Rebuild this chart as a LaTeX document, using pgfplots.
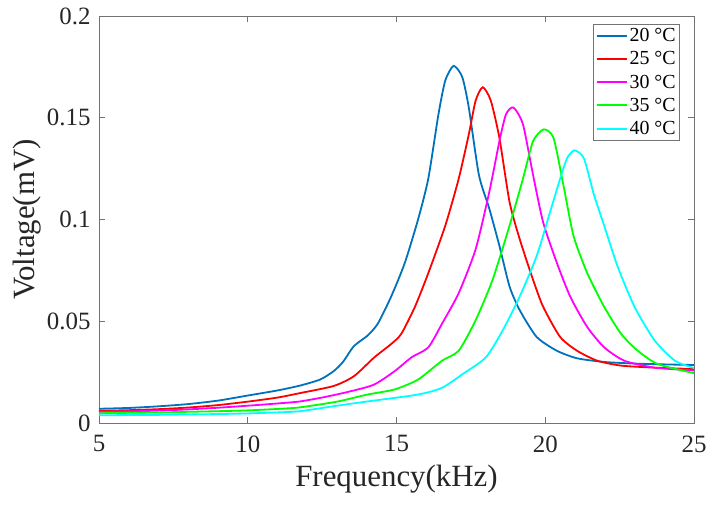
\documentclass[border=0pt]{standalone}
\usepackage{fontspec}
\setmainfont{Liberation Serif}
\usepackage{pgfplots}
\pgfplotsset{compat=1.18}
\definecolor{mblue}{rgb}{0,0.447,0.741}
\definecolor{pmag}{rgb}{1,0,1}
\definecolor{pcyan}{rgb}{0,1,1}
\definecolor{pgreen}{rgb}{0,1,0}
\definecolor{pred}{rgb}{1,0,0}
\definecolor{axgray}{gray}{0.45}
\begin{document}
\begin{tikzpicture}
\begin{axis}[
  scale only axis,
  width=595bp, height=407bp,
  xmin=5, xmax=25, ymin=0, ymax=0.2,
  xtick={5,10,15,20,25},
  ytick={0,0.05,0.1,0.15,0.2},
  yticklabels={0,0.05,0.1,0.15,0.2},
  xticklabels={5,10,15,20,25},
  tick align=inside,
  major tick length=6bp,
  tick style={axgray, line width=0.6bp},
  axis line style={axgray, line width=0.8bp},
  xtick pos=both, ytick pos=both,
  /pgf/number format/assume math mode=true,
  tick label style={font=\fontsize{25}{28}\selectfont, text=black!85},
  xticklabel style={yshift=-9bp},
  yticklabel style={xshift=-5bp},
  xlabel={Frequency(kHz)},
  ylabel={Voltage(mV)},
  label style={font=\fontsize{31}{36}\selectfont, text=black!85},
  xlabel style={at={(axis description cs:0.5,-0.137)}, anchor=center},
  ylabel style={at={(axis description cs:-0.121,0.5)}, anchor=center},
  legend style={at={(rel axis cs:1,1)}, anchor=north east, xshift=-14bp, yshift=-8bp,
    draw=axgray, line width=0.6bp, font=\fontsize{20}{23}\selectfont,
    row sep=4.5bp, inner sep=2bp, cells={anchor=west}},
  legend image code/.code={\draw[#1, line width=2bp] (0bp,0bp) -- (30bp,0bp);},
  every axis plot/.append style={line width=1.8bp, smooth, tension=0.4},
]
\addplot[mblue] coordinates {
(5,0.0070) (6,0.0074) (7,0.0082) (8,0.0093) (9,0.0110) (10,0.0135) (11,0.0160)
(11.76,0.0184) (12.44,0.0214) (12.89,0.0255) (13.2,0.0300) (13.57,0.0378) (14.03,0.0430)
(14.37,0.0488) (14.82,0.0621) (15.28,0.0787) (15.73,0.1003) (16.07,0.1202) (16.41,0.1517)
(16.64,0.1683) (16.92,0.1755) (17.21,0.1700) (17.43,0.1550) (17.77,0.1219) (18.12,0.1053)
(18.46,0.0870) (18.80,0.0671) (19.14,0.0555) (19.71,0.0423) (20.39,0.0355) (21.07,0.0318)
(21.98,0.0300) (23,0.0292) (24,0.0288) (25,0.0285)};
\addlegendentry{20 °C}
\addplot[pred] coordinates {
(5,0.0060) (6,0.0063) (7,0.0068) (8,0.0076) (9,0.0088) (10,0.0105) (11,0.0125)
(11.76,0.0147) (12.89,0.0182) (13.57,0.0230) (14.25,0.0322) (14.82,0.0388) (15.16,0.0438)
(15.62,0.0571) (16.07,0.0737) (16.64,0.0970) (17.09,0.1200) (17.43,0.1418) (17.66,0.1584)
(17.90,0.1650) (18.17,0.1584) (18.46,0.1400) (18.80,0.1086) (19.14,0.0904) (19.59,0.0704)
(19.93,0.0571) (20.50,0.0423) (21.07,0.0355) (21.75,0.0306) (22.55,0.0282) (23.68,0.0272)
(25,0.0265)};
\addlegendentry{25 °C}
\addplot[pmag] coordinates {
(5,0.0055) (6,0.0057) (7,0.0061) (8,0.0067) (9,0.0075) (10,0.0085) (11,0.0096)
(11.76,0.0106) (12.6,0.0128) (13.46,0.0156) (14.25,0.0189) (14.94,0.0255) (15.50,0.0322)
(16.07,0.0372) (16.53,0.0488) (17.09,0.0638) (17.66,0.0854) (18.12,0.1136) (18.46,0.1385)
(18.68,0.1517) (18.93,0.1550) (19.25,0.1468) (19.59,0.1219) (19.93,0.0986) (20.39,0.0787)
(20.84,0.0621) (21.41,0.0472) (21.98,0.0372) (22.66,0.0306) (23.68,0.0272) (25,0.0258)};
\addlegendentry{30 °C}
\addplot[pgreen] coordinates {
(5,0.0048) (6,0.0050) (7,0.0052) (8,0.0055) (9,0.0058) (10,0.0062) (11,0.0069)
(11.76,0.0077) (13,0.0105) (14.03,0.0140) (14.94,0.0165) (15.73,0.0214) (16.53,0.0306)
(17.09,0.0355) (17.66,0.0505) (18.23,0.0704) (18.80,0.0970) (19.25,0.1200) (19.59,0.1385)
(19.95,0.1443) (20.28,0.1400) (20.61,0.1169) (20.95,0.0920) (21.41,0.0737) (21.98,0.0571)
(22.55,0.0438) (23.11,0.0355) (23.79,0.0289) (25,0.0245)};
\addlegendentry{35 °C}
\addplot[pcyan] coordinates {
(5,0.0038) (6,0.0039) (7,0.0040) (8,0.0042) (9,0.0044) (10,0.0047) (11,0.0052)
(11.76,0.0058) (13,0.0085) (14.03,0.0106) (15.73,0.0140) (16.53,0.0173) (17.21,0.0239)
(18.0,0.0322) (18.57,0.0455) (19.14,0.0621) (19.71,0.0820) (20.16,0.1036) (20.50,0.1200)
(20.73,0.1300) (20.98,0.1340) (21.30,0.1300) (21.64,0.1120) (21.98,0.0970) (22.43,0.0770)
(23.0,0.0571) (23.68,0.0405) (24.36,0.0306) (25,0.0270)};
\addlegendentry{40 °C}
\end{axis}
\path ([xshift=-99bp,yshift=-86bp]current axis.south west) rectangle ([xshift=17bp,yshift=16bp]current axis.north east);
\end{tikzpicture}
\end{document}
